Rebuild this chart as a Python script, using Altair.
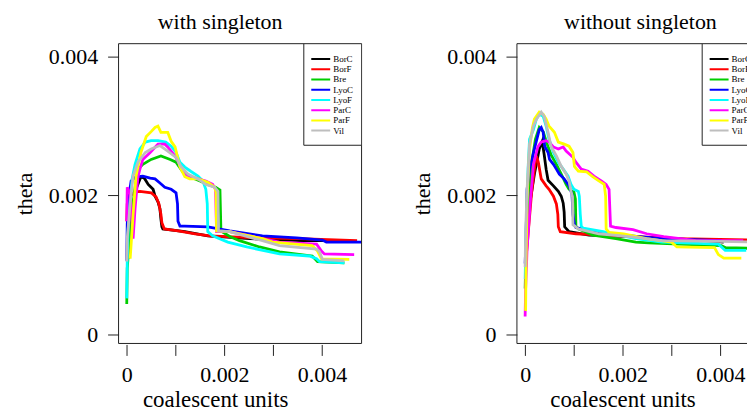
import altair as alt
import pandas as pd

FONT = "Liberation Serif"

series_names = ["BorC", "BorF", "Bre", "LyoC", "LyoF", "ParC", "ParF", "Vil"]
series_colors = ["#000000", "#ff0000", "#00cd00", "#0000ff", "#00ffff", "#ff00ff", "#ffff00", "#bebebe"]

x_ticks = [0, 0.001, 0.002, 0.003, 0.004]
y_ticks = [0, 0.002, 0.004]

# ---------------- with singleton ----------------
w_BorC_x = [0.00003, 0.00009, 0.00019, 0.00029, 0.00036, 0.00044, 0.00054, 0.00058, 0.00064, 0.00068, 0.0007, 0.00072, 0.00074, 0.00119, 0.00166, 0.00252, 0.00354, 0.00456]
w_BorC_y = [0.00109, 0.00173, 0.00209, 0.00227, 0.00225, 0.00216, 0.00209, 0.00199, 0.00191, 0.00181, 0.00166, 0.00155, 0.00152, 0.00148, 0.00142, 0.00138, 0.00135, 0.00135]
w_BorF_x = [0.0, 0.00001, 0.00007, 0.00015, 0.00027, 0.0005, 0.0006, 0.00066, 0.0007, 0.00072, 0.00077, 0.00105, 0.0014, 0.0017, 0.00272, 0.00354, 0.00472]
w_BorF_y = [0.00163, 0.00188, 0.00199, 0.00205, 0.00206, 0.00204, 0.00198, 0.00188, 0.00173, 0.00161, 0.00152, 0.00149, 0.00145, 0.00142, 0.00139, 0.00138, 0.00135]
w_Bre_x = [0.0, 0.00001, 0.00007, 0.00015, 0.00023, 0.00033, 0.0005, 0.0007, 0.00089, 0.00101, 0.00115, 0.00129, 0.0015, 0.00166, 0.00182, 0.00191, 0.00193, 0.00211, 0.00231, 0.00272, 0.00313, 0.0038, 0.00391, 0.00446]
w_Bre_y = [0.00044, 0.00095, 0.00152, 0.00202, 0.00238, 0.00245, 0.00252, 0.00257, 0.00252, 0.00248, 0.00234, 0.00227, 0.00221, 0.00216, 0.00212, 0.00208, 0.00149, 0.00141, 0.00135, 0.00126, 0.00119, 0.00113, 0.00105, 0.00103]
w_LyoC_x = [0.0, 0.00001, 0.00005, 0.00009, 0.00019, 0.00033, 0.00048, 0.00058, 0.00068, 0.00078, 0.00091, 0.00101, 0.00104, 0.00105, 0.00109, 0.00119, 0.00166, 0.00211, 0.00278, 0.00348, 0.00401, 0.00409, 0.00482]
w_LyoC_y = [0.00106, 0.00159, 0.00202, 0.00221, 0.00227, 0.00228, 0.00225, 0.00224, 0.00218, 0.00212, 0.00209, 0.00204, 0.00188, 0.00163, 0.00156, 0.00156, 0.00155, 0.00149, 0.00142, 0.00139, 0.00136, 0.00133, 0.00133]
w_LyoF_x = [0.0, 0.00001, 0.00003, 0.00007, 0.00011, 0.00017, 0.00027, 0.00038, 0.0005, 0.00064, 0.0008, 0.00091, 0.00101, 0.00109, 0.00119, 0.00131, 0.00146, 0.00156, 0.00162, 0.00165, 0.00166, 0.00176, 0.00207, 0.00246, 0.00313, 0.00374, 0.00389, 0.00395, 0.00446]
w_LyoF_y = [0.00052, 0.00106, 0.00152, 0.00195, 0.00224, 0.00245, 0.00267, 0.00277, 0.00279, 0.00279, 0.00277, 0.00271, 0.00262, 0.00248, 0.00241, 0.00235, 0.00228, 0.00221, 0.00209, 0.00188, 0.00148, 0.00142, 0.00133, 0.00126, 0.00116, 0.00113, 0.00109, 0.00105, 0.00103]
w_ParC_x = [0.0, 0.00001, 0.00007, 0.00013, 0.00017, 0.00023, 0.00027, 0.00033, 0.00048, 0.00064, 0.00078, 0.00084, 0.00099, 0.00111, 0.00125, 0.00146, 0.00162, 0.00176, 0.00182, 0.00184, 0.00211, 0.00278, 0.00313, 0.00389, 0.00399, 0.00405, 0.00466]
w_ParC_y = [0.00163, 0.00212, 0.00202, 0.00138, 0.00181, 0.00227, 0.00238, 0.00252, 0.00262, 0.00274, 0.00274, 0.0027, 0.00257, 0.00241, 0.00228, 0.00224, 0.00221, 0.00216, 0.00209, 0.00148, 0.00148, 0.00138, 0.00133, 0.0013, 0.0012, 0.00116, 0.00115]
w_ParF_x = [0.00007, 0.00009, 0.00013, 0.00019, 0.00029, 0.0004, 0.0005, 0.00058, 0.00064, 0.0007, 0.00084, 0.00091, 0.00099, 0.00109, 0.00119, 0.00129, 0.00146, 0.00166, 0.0018, 0.00183, 0.00184, 0.00211, 0.00231, 0.00278, 0.00299, 0.0038, 0.00391, 0.00399, 0.00456]
w_ParF_y = [0.00109, 0.0013, 0.00173, 0.00228, 0.00262, 0.00285, 0.00292, 0.00298, 0.003, 0.00291, 0.00291, 0.00278, 0.0027, 0.00241, 0.00227, 0.00224, 0.00224, 0.00219, 0.00212, 0.00205, 0.00149, 0.00148, 0.00145, 0.00138, 0.00133, 0.00128, 0.0012, 0.00109, 0.00108]
w_Vil_x = [0.0, 0.00001, 0.00007, 0.00013, 0.00023, 0.00038, 0.0005, 0.00068, 0.00084, 0.00101, 0.00111, 0.00125, 0.00146, 0.00162, 0.0018, 0.00187, 0.00188, 0.00211, 0.00278, 0.00313, 0.00389, 0.00395, 0.00401, 0.00446]
w_Vil_y = [0.00105, 0.00138, 0.00188, 0.00228, 0.00248, 0.00262, 0.00267, 0.00272, 0.00264, 0.00255, 0.00242, 0.00231, 0.00224, 0.00216, 0.00212, 0.00206, 0.00149, 0.00148, 0.00135, 0.00128, 0.00123, 0.00119, 0.00108, 0.00106]

# ---------------- without singleton ----------------
o_BorC_x = [0.00001, 0.00004, 0.00011, 0.00019, 0.00029, 0.00035, 0.00039, 0.00043, 0.00047, 0.00058, 0.00068, 0.00074, 0.00078, 0.0008, 0.00081, 0.0009, 0.00131, 0.00213, 0.00355, 0.00407]
o_BorC_y = [0.00095, 0.00152, 0.00195, 0.00231, 0.00267, 0.00278, 0.00259, 0.00238, 0.00222, 0.00214, 0.00206, 0.00199, 0.00189, 0.00176, 0.00155, 0.00148, 0.00143, 0.00141, 0.00136, 0.00133]
o_BorF_x = [0.00001, 0.00007, 0.00013, 0.00019, 0.00023, 0.00027, 0.00033, 0.00043, 0.00049, 0.00058, 0.00064, 0.00067, 0.00068, 0.00072, 0.00104, 0.00192, 0.00315, 0.0048]
o_BorF_y = [0.00102, 0.00152, 0.00202, 0.00238, 0.00257, 0.00248, 0.00224, 0.00214, 0.00209, 0.00199, 0.00188, 0.00173, 0.00155, 0.00148, 0.00145, 0.00142, 0.00138, 0.00136]
o_Bre_x = [0.0, 0.00002, 0.00007, 0.00013, 0.00021, 0.00029, 0.00037, 0.00045, 0.00053, 0.00064, 0.00074, 0.00084, 0.0009, 0.001, 0.00103, 0.00104, 0.00109, 0.00139, 0.00186, 0.00227, 0.00253, 0.00355, 0.00402, 0.00411, 0.00462]
o_Bre_y = [0.00066, 0.00123, 0.00195, 0.00245, 0.00281, 0.00298, 0.00292, 0.00274, 0.00259, 0.00245, 0.00231, 0.00216, 0.00209, 0.00205, 0.00195, 0.00156, 0.00152, 0.00143, 0.00138, 0.00133, 0.00132, 0.00129, 0.00128, 0.00125, 0.00124]
o_LyoC_x = [0.0, 0.00002, 0.00004, 0.00009, 0.00019, 0.00029, 0.00033, 0.00037, 0.0004, 0.00047, 0.0005, 0.00058, 0.00064, 0.0007, 0.0008, 0.0009, 0.00096, 0.00098, 0.00101, 0.00104, 0.00135, 0.00164, 0.00233, 0.00284, 0.00402]
o_LyoC_y = [0.00102, 0.00145, 0.00209, 0.00238, 0.00267, 0.00295, 0.00298, 0.00291, 0.00271, 0.00262, 0.00252, 0.00245, 0.00238, 0.00231, 0.00224, 0.00214, 0.00202, 0.00173, 0.00158, 0.00154, 0.00149, 0.00146, 0.00141, 0.00138, 0.00135]
o_LyoF_x = [0.0, 0.00002, 0.00006, 0.00009, 0.00017, 0.00023, 0.00029, 0.00037, 0.00043, 0.00049, 0.00058, 0.00068, 0.00078, 0.00088, 0.00094, 0.001, 0.00109, 0.00111, 0.00113, 0.00115, 0.00119, 0.0016, 0.00207, 0.00227, 0.0028, 0.00396, 0.0041, 0.00453]
o_LyoF_y = [0.0008, 0.00152, 0.00238, 0.00281, 0.00295, 0.0031, 0.00317, 0.00314, 0.003, 0.00281, 0.00262, 0.00248, 0.00238, 0.00228, 0.00216, 0.00209, 0.00206, 0.00199, 0.00173, 0.00156, 0.00153, 0.00148, 0.00141, 0.00138, 0.00133, 0.0013, 0.00121, 0.00121]
o_ParC_x = [0.0, 0.00001, 0.00004, 0.00011, 0.00017, 0.00026, 0.00033, 0.00043, 0.00049, 0.00058, 0.00068, 0.00078, 0.00084, 0.00098, 0.00104, 0.00115, 0.00129, 0.00141, 0.00156, 0.00166, 0.00172, 0.00175, 0.00186, 0.00221, 0.00249, 0.00284, 0.00351, 0.004, 0.00447]
o_ParC_y = [0.00026, 0.00066, 0.00123, 0.00195, 0.00245, 0.0027, 0.00277, 0.00279, 0.00277, 0.0027, 0.00267, 0.0027, 0.00264, 0.00255, 0.00248, 0.00238, 0.00235, 0.00228, 0.00221, 0.00216, 0.00209, 0.00156, 0.00154, 0.00151, 0.00145, 0.00141, 0.00135, 0.00135, 0.00135]
o_ParF_x = [0.00001, 0.00002, 0.00004, 0.00009, 0.00015, 0.00019, 0.00029, 0.00037, 0.00043, 0.00049, 0.0006, 0.00068, 0.0008, 0.0009, 0.00098, 0.00101, 0.00109, 0.00126, 0.00139, 0.00151, 0.00162, 0.00165, 0.00166, 0.00172, 0.00202, 0.00249, 0.003, 0.00311, 0.00388, 0.00396, 0.00407, 0.00443]
o_ParF_y = [0.00034, 0.00109, 0.00195, 0.00267, 0.00298, 0.0031, 0.0032, 0.00317, 0.0031, 0.003, 0.00291, 0.00277, 0.00274, 0.00271, 0.00262, 0.00242, 0.00235, 0.00234, 0.00227, 0.00221, 0.00216, 0.00199, 0.00152, 0.00147, 0.00145, 0.00138, 0.00133, 0.00126, 0.00125, 0.00115, 0.0011, 0.0011]
o_Vil_x = [0.0, 0.00001, 0.00004, 0.00009, 0.00017, 0.00023, 0.00033, 0.00039, 0.00047, 0.00053, 0.00064, 0.00074, 0.00084, 0.0009, 0.00094, 0.00097, 0.00098, 0.00109, 0.00151, 0.00213, 0.0028, 0.00396, 0.0048]
o_Vil_y = [0.00097, 0.00148, 0.00209, 0.00274, 0.003, 0.0031, 0.0032, 0.00314, 0.00291, 0.00271, 0.00257, 0.00242, 0.00231, 0.00221, 0.00206, 0.00198, 0.00158, 0.00152, 0.00145, 0.00141, 0.00135, 0.00134, 0.00133]

with_series = {
    "BorC": (w_BorC_x, w_BorC_y), "BorF": (w_BorF_x, w_BorF_y), "Bre": (w_Bre_x, w_Bre_y),
    "LyoC": (w_LyoC_x, w_LyoC_y), "LyoF": (w_LyoF_x, w_LyoF_y), "ParC": (w_ParC_x, w_ParC_y),
    "ParF": (w_ParF_x, w_ParF_y), "Vil": (w_Vil_x, w_Vil_y),
}
without_series = {
    "BorC": (o_BorC_x, o_BorC_y), "BorF": (o_BorF_x, o_BorF_y), "Bre": (o_Bre_x, o_Bre_y),
    "LyoC": (o_LyoC_x, o_LyoC_y), "LyoF": (o_LyoF_x, o_LyoF_y), "ParC": (o_ParC_x, o_ParC_y),
    "ParF": (o_ParF_x, o_ParF_y), "Vil": (o_Vil_x, o_Vil_y),
}


def to_frame(series):
    rows = []
    for name in series_names:
        xs, ys = series[name]
        for i, (xv, yv) in enumerate(zip(xs, ys)):
            rows.append({"series": name, "idx": i, "x": xv, "y": yv})
    return pd.DataFrame(rows)


H = 301
W_LEFT = 244
W_RIGHT = 238
PX_PER_X = 49000.0
X_MIN = -0.000168
Y_DOM = [-0.000129, 0.004186]

legend_df = pd.DataFrame({"name": series_names, "col": series_colors, "i": list(range(len(series_names)))})
one_df = pd.DataFrame({"k": [0]})


def panel(series, title, width, title_dx, xtitle_x, full_box):
    df = to_frame(series)
    xdom = [X_MIN, X_MIN + width / PX_PER_X]
    lines = alt.Chart(df).mark_line(strokeWidth=2.8, clip=True).encode(
        x=alt.X("x:Q",
                scale=alt.Scale(domain=xdom, nice=False, zero=False),
                axis=alt.Axis(values=x_ticks,
                              labelExpr="round(datum.value*1000) % 2 == 0 ? format(datum.value, '.3~f') : ''",
                              title="coalescent units", tickSize=11, offset=1,
                              labelPadding=9, titlePadding=3, titleX=xtitle_x,
                              titleFontSize=23,
                              labelFlush=False, labelOverlap=False)),
        y=alt.Y("y:Q",
                scale=alt.Scale(domain=Y_DOM, nice=False, zero=False),
                axis=alt.Axis(values=y_ticks, labelExpr="format(datum.value, '.3~f')",
                              title="theta", tickSize=11, labelPadding=10, titlePadding=12,
                              labelFlush=False, labelOverlap=False)),
        color=alt.Color("series:N", scale=alt.Scale(domain=series_names, range=series_colors), legend=None),
        order=alt.Order("idx:Q"),
    )
    frame = [
        alt.Chart(one_df).mark_rule(color="#222", strokeWidth=1).encode(
            x=alt.value(0), x2=alt.value(width), y=alt.value(0)),
        alt.Chart(one_df).mark_rule(color="#222", strokeWidth=1).encode(
            x=alt.value(0), x2=alt.value(width), y=alt.value(H)),
        alt.Chart(one_df).mark_rule(color="#222", strokeWidth=1).encode(
            x=alt.value(0), y=alt.value(0), y2=alt.value(H)),
    ]
    if full_box:
        frame.append(alt.Chart(one_df).mark_rule(color="#222", strokeWidth=1).encode(
            x=alt.value(width), y=alt.value(0), y2=alt.value(H)))
    leg_left = 186
    leg_box = alt.Chart(one_df).mark_rect(fill="white", stroke="#222", strokeWidth=1, clip=True).encode(
        x=alt.value(leg_left), x2=alt.value(leg_left + 58), y=alt.value(0), y2=alt.value(102))
    leg_base = alt.Chart(legend_df).transform_calculate(ly="15.4 + datum.i * 10.27")
    leg_lines = leg_base.mark_rule(strokeWidth=2, clip=True).encode(
        x=alt.value(leg_left + 7.5), x2=alt.value(leg_left + 26.5),
        y=alt.Y("ly:Q", scale=None, axis=None),
        stroke=alt.Stroke("col:N", scale=None))
    leg_text = leg_base.mark_text(align="left", baseline="middle", font=FONT, fontSize=9,
                                  color="black", clip=True).encode(
        x=alt.value(leg_left + 29.5),
        y=alt.Y("ly:Q", scale=None, axis=None),
        text="name:N")
    return alt.layer(lines, *frame, leg_box, leg_lines, leg_text).properties(
        width=width, height=H,
        title=alt.TitleParams(title, font=FONT, fontSize=22, fontWeight="normal",
                              color="black", dx=title_dx, offset=9))


left = panel(with_series, "with singleton", W_LEFT, -20, 97, True)
right = panel(without_series, "without singleton", W_RIGHT, 5, 106, False)

chart = alt.hconcat(left, right, spacing=49).properties(
    padding={"left": 5, "top": 2, "right": -8, "bottom": 0}
).configure_view(stroke=None).configure_axis(
    labelFont=FONT, titleFont=FONT, labelFontSize=22, titleFontSize=22,
    titleFontWeight="normal", labelColor="black", titleColor="black",
    tickColor="#222", tickWidth=1, domain=False, grid=False
)

chart.save("out.html", embed_options={"renderer": "svg", "actions": False})
